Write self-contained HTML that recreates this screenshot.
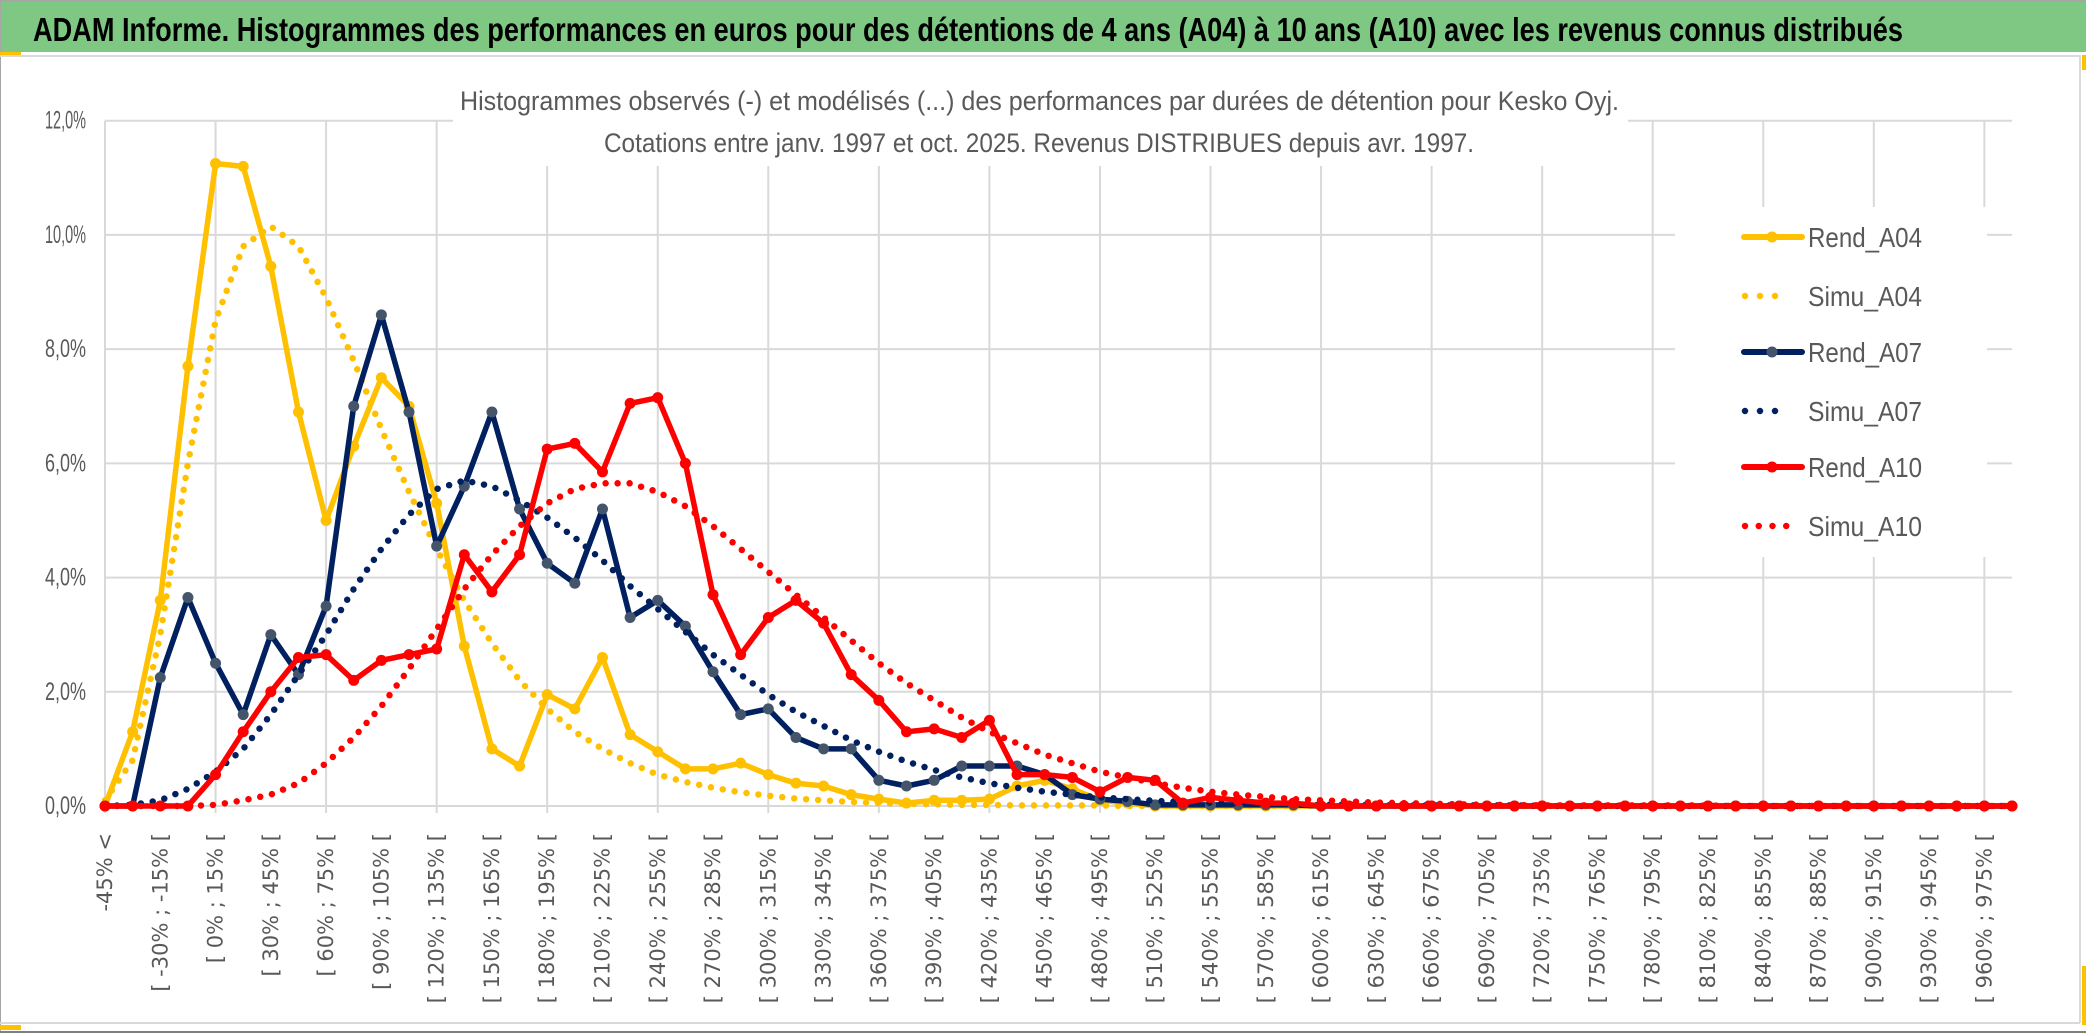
<!DOCTYPE html>
<html><head><meta charset="utf-8"><style>
html,body{margin:0;padding:0;background:#fff;}
svg{display:block;}
text{font-family:"Liberation Sans Narrow","Liberation Sans",sans-serif;}
</style></head><body>
<svg id="chart" width="2086" height="1033" viewBox="0 0 2086 1033" xmlns="http://www.w3.org/2000/svg">
<rect x="0" y="0" width="2086" height="1033" fill="#fff"/>
<rect x="0" y="0" width="2086" height="2" fill="#a6a6a6"/>
<rect x="0" y="2" width="2086" height="50" fill="#7ec883"/>
<rect x="0" y="0" width="1" height="1033" fill="#a6a6a6"/>
<text x="33" y="41" font-size="33" font-weight="bold" fill="#000" textLength="1870" lengthAdjust="spacingAndGlyphs">ADAM Informe. Histogrammes des performances en euros pour des détentions de 4 ans (A04) à 10 ans (A10) avec les revenus connus distribués</text>
<rect x="0" y="55" width="2080" height="2" fill="#d9d9d9"/>
<rect x="0" y="52" width="21" height="3" fill="#ffc000"/>
<rect x="2079" y="55" width="2" height="968" fill="#d9d9d9"/>
<rect x="2082" y="55" width="4" height="15" fill="#ffc000"/>
<rect x="2082" y="966" width="4" height="59" fill="#ffc000"/>
<rect x="0" y="1022" width="2080" height="2" fill="#d9d9d9"/>
<rect x="0" y="1025" width="21" height="5" fill="#ffc000"/>
<rect x="0" y="1031" width="2086" height="2" fill="#7f7f7f"/>
<g id="grid"></g>
<rect x="453" y="60" width="1175" height="106" fill="#fff"/>
<text x="460" y="110" font-size="27" fill="#595959" textLength="1159" lengthAdjust="spacingAndGlyphs">Histogrammes observés (-) et modélisés (...) des performances par durées de détention pour Kesko Oyj.</text>
<text x="604" y="152" font-size="27" fill="#595959" textLength="870" lengthAdjust="spacingAndGlyphs">Cotations entre janv. 1997 et oct. 2025. Revenus DISTRIBUES depuis avr. 1997.</text>
<g id="yaxis"></g>
<g id="xaxis"></g>
<g id="series"></g>
<rect x="1675" y="207" width="312" height="350" fill="#fff"/>
<g id="legend"></g>
</svg>
<script>
const categoryStarts = [];
for (let p = -45; p <= 990; p += 15) categoryStarts.push(p);
const yTicks = [0, 2, 4, 6, 8, 10, 12];
const yTickLabels = ["0,0%", "2,0%", "4,0%", "6,0%", "8,0%", "10,0%", "12,0%"];
const seriesNames = ["Rend_A04", "Simu_A04", "Rend_A07", "Simu_A07", "Rend_A10", "Simu_A10"];
const rendA04 = [0,1.3,3.6,7.7,11.25,11.2,9.45,6.9,5.0,6.3,7.5,7.0,5.3,2.8,1.0,0.7,1.95,1.7,2.6,1.25,0.95,0.65,0.65,0.75,0.55,0.4,0.35,0.2,0.12,0.05,0.1,0.1,0.12,0.35,0.45,0.3,0.1,0.05,0,0,0,0,0,0,0,0,0,0,0,0,0,0,0,0,0,0,0,0,0,0,0,0,0,0,0,0,0,0,0,0];
const simuA04 = [0.1,0.8,3.0,6.0,8.5,9.8,10.15,9.8,8.9,7.8,6.6,5.5,4.5,3.6,2.85,2.2,1.7,1.3,1.0,0.75,0.55,0.42,0.32,0.24,0.18,0.13,0.1,0.07,0.05,0.04,0.03,0.02,0.02,0.01,0.01,0.01,0.01,0,0,0,0,0,0,0,0,0,0,0,0,0,0,0,0,0,0,0,0,0,0,0,0,0,0,0,0,0,0,0,0,0];
const rendA07 = [0,0,2.25,3.65,2.5,1.6,3.0,2.3,3.5,7.0,8.6,6.9,4.55,5.6,6.9,5.2,4.25,3.9,5.2,3.3,3.6,3.15,2.35,1.6,1.7,1.2,1.0,1.0,0.45,0.35,0.45,0.7,0.7,0.7,0.55,0.2,0.12,0.08,0.02,0.02,0.02,0.02,0.02,0.02,0,0,0,0,0,0,0,0,0,0,0,0,0,0,0,0,0,0,0,0,0,0,0,0,0,0];
const simuA07 = [0,0.02,0.1,0.3,0.6,1.0,1.6,2.3,3.0,3.8,4.5,5.1,5.55,5.7,5.6,5.35,5.05,4.7,4.3,3.85,3.45,3.05,2.65,2.3,1.95,1.65,1.4,1.15,0.95,0.78,0.63,0.5,0.4,0.32,0.25,0.2,0.15,0.12,0.09,0.07,0.055,0.04,0.03,0.03,0.02,0.02,0.02,0.01,0.01,0.01,0.01,0.01,0,0,0,0,0,0,0,0,0,0,0,0,0,0,0,0,0,0];
const rendA10 = [0,0,0,0,0.55,1.3,2.0,2.6,2.65,2.2,2.55,2.65,2.75,4.4,3.75,4.4,6.25,6.35,5.85,7.05,7.15,6.0,3.7,2.65,3.3,3.6,3.2,2.3,1.85,1.3,1.35,1.2,1.5,0.55,0.55,0.5,0.25,0.5,0.45,0.05,0.15,0.1,0.05,0.05,0,0,0,0,0,0,0,0,0,0,0,0,0,0,0,0,0,0,0,0,0,0,0,0,0,0];
const simuA10 = [0,0,0,0,0.02,0.1,0.2,0.4,0.75,1.2,1.75,2.4,3.1,3.8,4.4,4.9,5.3,5.55,5.65,5.65,5.5,5.25,4.9,4.5,4.1,3.7,3.3,2.9,2.5,2.15,1.85,1.55,1.3,1.1,0.9,0.75,0.6,0.5,0.4,0.32,0.25,0.2,0.16,0.12,0.1,0.08,0.06,0.05,0.04,0.03,0.02,0.02,0.01,0.01,0.01,0.01,0.01,0.01,0.01,0,0,0,0,0,0,0,0,0,0,0];

const NS = "http://www.w3.org/2000/svg";
const X0 = 105, X1 = 2012, Y0 = 806, Y12 = 120.7;
const nCat = categoryStarts.length;
function xPos(i) { return X0 + i * (X1 - X0) / (nCat - 1); }
function yPos(v) { return Y0 - v * (Y0 - Y12) / 12; }
function mk(tag, attrs, parent) {
  const e = document.createElementNS(NS, tag);
  for (const k in attrs) e.setAttribute(k, attrs[k]);
  parent.appendChild(e);
  return e;
}
function catLabel(i) {
  const p = categoryStarts[i];
  if (i === 0) return p + "% <";
  return "[ " + (p - 15) + "% ; " + p + "% [";
}
const grid = document.getElementById("grid");
yTicks.forEach(v => {
  const l = mk("line", {x1: X0, x2: X1, y1: yPos(v), y2: yPos(v), stroke: "#d9d9d9", "stroke-width": 2}, grid);
  
  
});
for (let i = 0; i < nCat; i += 4) {
  const l = mk("line", {x1: xPos(i), x2: xPos(i), y1: Y12, y2: Y0 + 7, stroke: "#d9d9d9", "stroke-width": 2}, grid);
  
  
}
const yaxis = document.getElementById("yaxis");
yTicks.forEach((v, k) => {
  const w = yTickLabels[k].length === 6 ? 50 : 41;
  const t = mk("text", {x: 86, y: yPos(v) + 8, "text-anchor": "end", "font-size": 25, fill: "#595959", textLength: w, lengthAdjust: "spacingAndGlyphs"}, yaxis);
  t.textContent = yTickLabels[k];
  
  
});
const xaxis = document.getElementById("xaxis");
for (let i = 0; i < nCat - 1; i += 2) {
  const x = xPos(i) + 7;
  const t = mk("text", {x: x, y: 833, "text-anchor": "end", "font-size": 21, fill: "#595959", transform: "rotate(-90 " + x + " 833)", style: "font-family:'DejaVu Sans',sans-serif"}, xaxis);
  t.textContent = catLabel(i);
  
  
}
const seriesData = [rendA04, simuA04, rendA07, simuA07, rendA10, simuA10];
const colors = ["#ffc000", "#ffc000", "#002060", "#002060", "#ff0000", "#ff0000"];
const markerColors = ["#ffc000", null, "#44546a", null, "#ff0000", null];
const sg = document.getElementById("series");
seriesData.forEach((vals, s) => {
  const g = mk("g", {}, sg);
  
  
  const d = vals.map((v, i) => (i ? "L" : "M") + xPos(i).toFixed(1) + " " + yPos(v).toFixed(1)).join(" ");
  const dotted = markerColors[s] === null;
  const p = mk("path", {d: d, fill: "none", stroke: colors[s], "stroke-width": dotted ? 6.5 : 5.5, "stroke-linecap": "round", "stroke-linejoin": "round"}, g);
  if (dotted) p.setAttribute("stroke-dasharray", "0 12");
  
  
  if (!dotted) {
    vals.forEach((v, i) => {
      const c = mk("circle", {cx: xPos(i), cy: yPos(v), r: 5.5, fill: markerColors[s]}, g);
      
      
    });
  }
});
const lg = document.getElementById("legend");
const legendY = [237, 296, 352, 411, 467, 526];
seriesNames.forEach((name, s) => {
  const g = mk("g", {}, lg);
  
  
  const y = legendY[s];
  const dotted = markerColors[s] === null;
  if (dotted) {
    const l = mk("path", {d: "M1745 " + y + " L" + (s === 5 ? 1800 : 1790) + " " + y, stroke: colors[s], "stroke-width": 6.5, "stroke-linecap": "round", "stroke-dasharray": s === 5 ? "0 13.75" : "0 15", fill: "none"}, g);
    
    
  } else {
    const l = mk("line", {x1: 1744, x2: 1802, y1: y, y2: y, stroke: colors[s], "stroke-width": 6, "stroke-linecap": "round"}, g);
    
    
    const c = mk("circle", {cx: 1772, cy: y, r: 5.5, fill: markerColors[s]}, g);
    
    
  }
  const t = mk("text", {x: 1808, y: y + 10, "font-size": 28, fill: "#595959", textLength: 114, lengthAdjust: "spacingAndGlyphs"}, g);
  t.textContent = name;
  
  
});
</script>
</body></html>
